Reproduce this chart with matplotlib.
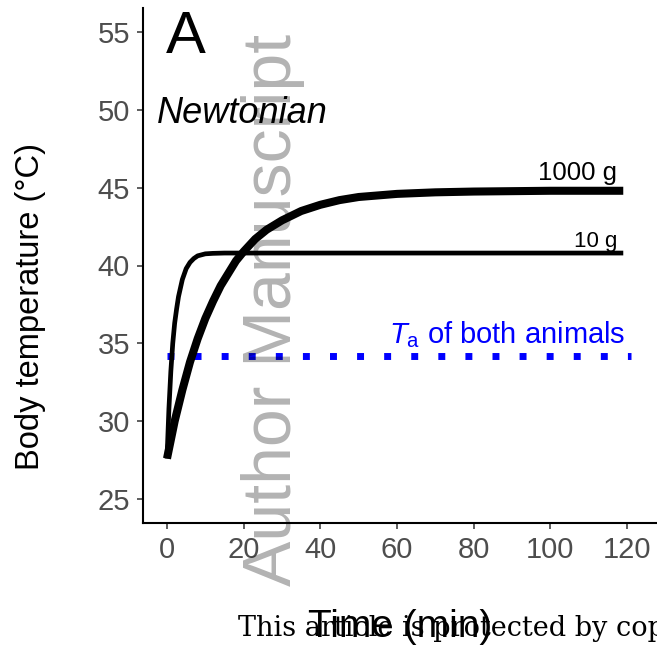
import numpy as np
import matplotlib
matplotlib.use("Agg")
import matplotlib.pyplot as plt

plt.rcParams['font.family'] = ['Liberation Sans', 'DejaVu Sans']
plt.rcParams['mathtext.fontset'] = 'custom'
plt.rcParams['mathtext.rm'] = 'Liberation Sans'
plt.rcParams['mathtext.it'] = 'Liberation Sans:italic'

# body temperature (min, degC)
t_big = [0, 1, 2, 3, 4, 5, 6, 8, 10, 12, 14, 16, 18, 20, 23, 26, 30, 35, 40, 45, 50, 60, 70, 80, 100, 119]
T_big = [27.6, 28.8, 30.0, 31.0, 32.0, 32.9, 33.8, 35.3, 36.6, 37.7, 38.7, 39.5, 40.3, 40.9, 41.7, 42.3,
         42.9, 43.5, 43.9, 44.2, 44.4, 44.6, 44.7, 44.75, 44.8, 44.8]

t_small = [0, 0.5, 1, 1.5, 2, 2.5, 3, 4, 5, 6, 7, 8, 10, 12, 15, 119]
T_small = [27.6, 30.8, 33.2, 35.0, 36.3, 37.2, 38.0, 39.1, 39.8, 40.2, 40.45, 40.62, 40.75, 40.78, 40.8, 40.8]

Ta = 34.2
ta_range = [0, 121]

xticks = [0, 20, 40, 60, 80, 100, 120]
yticks = [25, 30, 35, 40, 45, 50, 55]

fig = plt.figure(figsize=(6.57, 6.47), dpi=100)
ax = fig.add_axes([143/657, 124/647, 514/657, 515/647])

ax.plot(ta_range, [Ta, Ta], color='#0000FF', lw=5, dashes=(1.0, 2.9), dash_capstyle='butt')
ax.plot(t_small, T_small, color='black', lw=3.4, solid_capstyle='butt')
ax.plot(t_big, T_big, color='black', lw=5.8, solid_capstyle='butt')

ax.text(117.4, 45.49, '1000 g', fontsize=18.5, ha='right', va='baseline')
ax.text(117.4, 41.19, '10 g', fontsize=16, ha='right', va='baseline')
ax.text(119.5, 35.02, r'$T_\mathrm{a}$ of both animals', fontsize=21, color='#0000FF',
        ha='right', va='baseline')
ax.text(-0.3, 53.65, 'A', fontsize=43, ha='left', va='baseline')
ax.text(-2.6, 49.15, 'Newtonian', fontsize=26, style='italic', ha='left', va='baseline')

ax.set_xlim(-6.26, 127.8)
ax.set_ylim(23.46, 56.54)
ax.set_xticks(xticks)
ax.set_yticks(yticks)
ax.tick_params(labelsize=21, labelcolor='#4D4D4D', color='#333333', length=4.3, width=1.1, pad=5)
for s in ['top', 'right']:
    ax.spines[s].set_visible(False)
for s in ['left', 'bottom']:
    ax.spines[s].set_linewidth(1.5)

fig.text(31/657, 1 - 307/647, 'Body temperature (°C)', fontsize=23.5, rotation=90, ha='center', va='center')
fig.text(400/657, 1 - 637/647, 'Time (min)', fontsize=28, ha='center', va='baseline')

# watermark and footer
fig.text(273/657, 1 - 310/647, 'Author Manuscript', fontsize=49, rotation=90, color='black', alpha=0.3,
         ha='center', va='center')
fig.text(238/657, 1 - 636/647, 'This article is protected by copyright. All rights reserved',
         fontsize=19.5, family='DejaVu Serif', ha='left', va='baseline')

fig.savefig('out.png', dpi=100)
